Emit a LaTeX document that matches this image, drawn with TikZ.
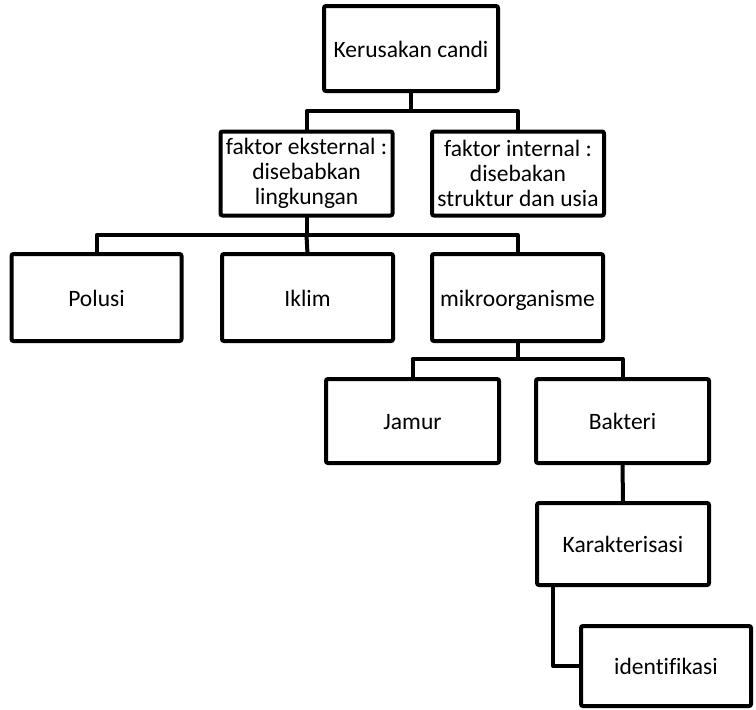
\documentclass[tikz,border=0pt]{standalone}
\usepackage{fontspec}
\setmainfont{Carlito}[Ligatures={NoCommon}]
\begin{document}
\begin{tikzpicture}[x=1pt,y=-1pt,
  box/.style={draw=black,line width=4pt,rounded corners=2pt,outer sep=0pt,inner sep=0pt,
    minimum width=172pt,minimum height=84pt,align=center,
    font=\fontsize{23.5}{25}\selectfont},
  one/.style={box,text height=21pt,text depth=4pt},
  conn/.style={draw=black,line width=4pt,line join=round}]
\useasboundingbox (0,0) rectangle (756,710);
\node[one,minimum width=174pt,minimum height=85pt] (top) at (411,48.5) {Kerusakan candi};
\node[box] (ext) at (306.5,173.5) {faktor eksternal :\\disebabkan\\lingkungan};
\node[box] (int) at (518,173.5) {faktor internal :\\disebakan\\struktur dan usia};
\node[one,minimum width=170pt,minimum height=87pt] (polusi) at (96.5,297.5) {Polusi};
\node[one,minimum width=171pt,minimum height=87pt] (iklim) at (307.5,297.5) {Iklim};
\node[one,minimum width=171pt,minimum height=87pt] (mikro) at (517.5,297.5) {mikroorganisme};
\node[one,minimum width=173pt] (jamur) at (412.5,421) {Jamur};
\node[one,minimum width=173pt] (bakteri) at (622.5,421) {Bakteri};
\node[one,minimum height=82pt] (karakt) at (623,544) {Karakterisasi};
\node[one,minimum width=170pt,minimum height=80pt] (ident) at (666,666) {identifikasi};
% connectors
\coordinate (b1) at (411,111);
\draw[conn] (top.south) -- (b1);
\draw[conn] (ext.north) |- (b1) -| (int.north);
\coordinate (b2) at (306.5,235);
\draw[conn] (ext.south) -- (b2);
\draw[conn] (polusi.north) |- (b2) -| (mikro.north);
\draw[conn] (b2) -- (iklim.north);
\coordinate (b3) at (517.5,359);
\draw[conn] (mikro.south) -- (b3);
\draw[conn] (jamur.north) |- (b3) -| (bakteri.north);
\draw[conn] (bakteri.south) -- (karakt.north);
\draw[conn] ([xshift=16pt]karakt.south west) |- (ident.west);
\end{tikzpicture}
\end{document}
